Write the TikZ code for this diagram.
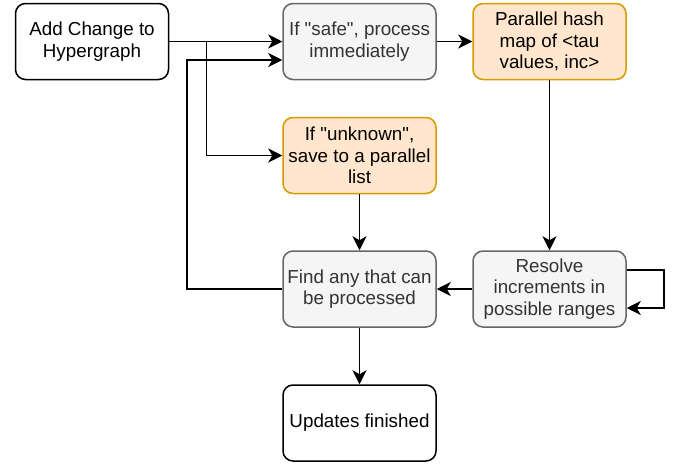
\documentclass[tikz,border=0pt]{standalone}
\usepackage{fontspec}
\setmainfont{Liberation Sans}[Ligatures=TeXOff]
\usetikzlibrary{arrows.meta}
\definecolor{greyfill}{HTML}{F5F5F5}
\definecolor{greyline}{HTML}{666666}
\definecolor{greytext}{HTML}{333333}
\definecolor{orangefill}{HTML}{FFE6CC}
\definecolor{orangeline}{HTML}{D79B00}
\tikzset{
  box/.style={shape=rectangle, rounded corners=10pt, line width=1.5pt,
    minimum width=153pt, minimum height=76pt, align=center,
    font=\fontsize{18.8}{21.7}\selectfont},
  plainbox/.style={box, draw=black, fill=white},
  greybox/.style={box, draw=greyline, fill=greyfill, text=greytext},
  orangebox/.style={box, draw=orangeline, fill=orangefill},
  flow/.style={line width=1.7pt, -{Stealth[length=14pt, width=14pt, inset=4pt]}}
}
\begin{document}
\begin{tikzpicture}[x=1pt, y=-1pt]
  \useasboundingbox (0,0) rectangle (673,464);

  \node[plainbox] (add) at (92,41.5) {Add Change to\\Hypergraph};
  \node[greybox] (safe) at (359.5,41.5) {If "safe", process\\immediately};
  \node[orangebox] (hash) at (549.5,41.5) {Parallel hash\\map of <tau\\values, inc>};
  \node[orangebox] (unknown) at (359.5,155.5) {If "unknown",\\save to a parallel\\list};
  \node[greybox] (find) at (359.5,289) {Find any that can\\be processed};
  \node[greybox] (resolve) at (549.5,289) {Resolve\\increments in\\possible ranges};
  \node[plainbox] (done) at (359.5,423) {Updates finished};

  \coordinate (split) at (206.5,41.5);
  \coordinate (back) at (187,60);
  \coordinate (loopa) at (664,270);
  \coordinate (loopb) at (664,308);

  \draw[flow] (add) -- (safe);
  \draw[flow] (split) |- (unknown);
  \draw[flow] (safe) -- (hash);
  \draw[flow] (hash) -- (resolve);
  \draw[flow] (unknown) -- (find);
  \draw[flow] (resolve) -- (find);
  \draw[flow] (find) -- (done);
  \draw[flow] (find.west) -| (back) -- (back -| safe.west);
  \draw[flow] (loopa -| resolve.east) -- (loopa) -- (loopb) -- (loopb -| resolve.east);
\end{tikzpicture}
\end{document}
